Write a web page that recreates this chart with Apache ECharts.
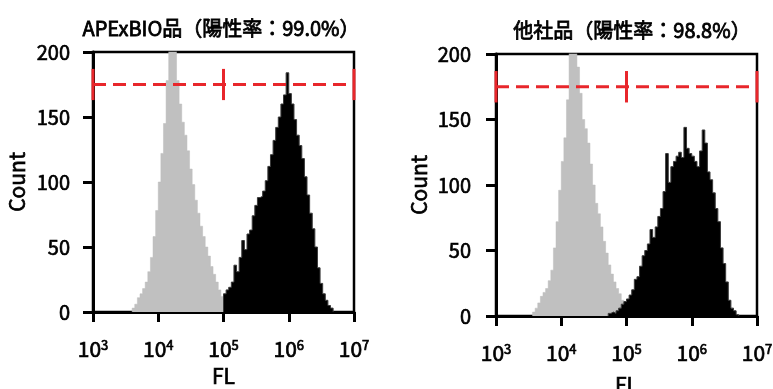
<!DOCTYPE html>
<html>
<head>
<meta charset="utf-8">
<script src="https://cdn.jsdelivr.net/npm/echarts@6/dist/echarts.min.js"></script>
<style>
  html, body { margin: 0; padding: 0; background: #fff; }
  #chart { width: 773px; height: 389px; }
</style>
</head>
<body>
<div id="chart"></div>
<script>
// 直方图数据：每个bin宽 0.04 个数量级 (log10)
const binWidth = 0.04;

const titles = ["APExBIO品（陽性率：99.0%）", "他社品（陽性率：98.8%）"];
const tickLabels = ["10³", "10⁴", "10⁵", "10⁶", "10⁷"];

// 左图 APExBIO
const leftGrayStart = 3.60;
const leftGray = [3, 6, 11, 14, 18, 23, 31, 42, 58, 78, 100, 122, 145, 178, 205, 210, 202, 178, 160, 146,
  136, 124, 110, 98, 86, 76, 66, 58, 50, 43, 35, 29, 23, 17, 12, 8, 4];
const leftBlackStart = 5.00;
const leftBlack = [14, 17, 19, 23, 36, 31, 42, 55, 48, 60, 63, 74, 82, 88, 89, 93, 101, 112, 121, 132,
  142, 150, 160, 167, 184, 168, 160, 148, 136, 128, 118, 104, 90, 76, 64, 50, 34, 22, 14, 9, 5, 3];

// 右图 他社品
const rightGrayStart = 3.56;
const rightGray = [3, 6, 10, 15, 18, 21, 27, 35, 52, 72, 96, 118, 136, 165, 205, 210, 205, 190, 170, 150,
  143, 132, 116, 100, 86, 78, 68, 57, 48, 39, 32, 26, 21, 17, 12, 8, 5, 3];
const rightBlackStart = 4.72;
const rightBlack = [2, 3, 2, 4, 6, 9, 11, 13, 16, 20, 28, 30, 38, 46, 50, 55, 66, 60, 68, 76,
  82, 95, 124, 102, 114, 118, 122, 125, 121, 144, 128, 124, 122, 118, 114, 126, 142, 132, 110, 104,
  94, 82, 72, 52, 40, 26, 12, 6, 4, 1];

// 门控线（红色虚线）
const gateLevel = 175;
const gateLow = 163;
const gateHigh = 187;
const gateEdges = [1e3, 1e5, 1e7];

const FONT = "'Noto Sans CJK JP', 'Noto Sans', sans-serif";
// 常规字重 + 细描边，接近原图的中等字重
const heavy = { fontWeight: "normal", textBorderColor: "#000", textBorderWidth: 0.7 };

function toSteps(start, counts) {
  const pts = [[Math.pow(10, start), 0]];
  counts.forEach(function (c, i) {
    pts.push([Math.pow(10, start + i * binWidth), c]);
  });
  pts.push([Math.pow(10, start + counts.length * binWidth), 0]);
  return pts;
}

const panels = [
  { grid: { left: 93, top: 52, width: 261, height: 260 }, title: { left: 216, top: 13 },
    gray: [leftGrayStart, leftGray], black: [leftBlackStart, leftBlack], labelMargin: 23, countGap: 65, flGap: 54 },
  { grid: { left: 496, top: 54, width: 261, height: 262 }, title: { left: 627, top: 15 },
    gray: [rightGrayStart, rightGray], black: [rightBlackStart, rightBlack], labelMargin: 25, countGap: 66, flGap: 59 },
];

const chart = echarts.init(document.getElementById("chart"), null, { renderer: "canvas" });

const option = {
  backgroundColor: "#fff",
  animation: false,
  textStyle: { fontFamily: FONT },
  title: [],
  grid: [],
  xAxis: [],
  yAxis: [],
  series: [],
};

panels.forEach(function (p, k) {
  option.title.push({
    text: titles[k],
    left: p.title.left,
    top: p.title.top,
    textAlign: "center",
    textStyle: { fontFamily: FONT, fontSize: 20, color: "#000", fontWeight: "normal", textBorderColor: "#000", textBorderWidth: 0.8 },
  });
  option.grid.push(Object.assign({
    show: true, borderColor: "#000", borderWidth: 2.5, containLabel: false, outerBoundsMode: "none",
  }, p.grid));
  option.xAxis.push({
    type: "log",
    logBase: 10,
    gridIndex: k,
    min: 1e3,
    max: 1e7,
    splitNumber: 4,
    name: "FL",
    nameLocation: "middle",
    nameGap: p.flGap,
    nameMoveOverlap: false,
    nameTextStyle: Object.assign({ fontFamily: FONT, fontSize: 21, color: "#000" }, heavy),
    axisLine: { show: true, lineStyle: { color: "#000", width: 3 } },
    axisTick: { show: true, length: 10, lineStyle: { color: "#000", width: 3 } },
    minorTick: { show: false },
    splitLine: { show: false },
    axisLabel: Object.assign({
      margin: 27,
      color: "#000",
      fontFamily: FONT,
      fontSize: 21,
      formatter: function (v) {
        const e = Math.round(Math.log10(v));
        return tickLabels[e - 3] ? "10{s|" + e + "}" : "";
      },
      rich: {
        s: Object.assign({ fontSize: 13, fontFamily: FONT, color: "#000", verticalAlign: "top", padding: [0, 0, 8, 0] }, heavy),
      },
    }, heavy),
  });
  option.yAxis.push({
    type: "value",
    gridIndex: k,
    min: 0,
    max: 200,
    interval: 50,
    name: "Count",
    nameLocation: "middle",
    nameGap: p.countGap,
    nameMoveOverlap: false,
    nameTextStyle: Object.assign({ fontFamily: FONT, fontSize: 21, color: "#000" }, heavy),
    axisLine: { show: true, lineStyle: { color: "#000", width: 3 } },
    axisTick: { show: true, length: 10, lineStyle: { color: "#000", width: 3 } },
    splitLine: { show: false },
    axisLabel: Object.assign({ margin: p.labelMargin, color: "#000", fontFamily: FONT, fontSize: 20 }, heavy),
  });

  // 阴性对照（灰色）
  option.series.push({
    type: "line",
    xAxisIndex: k,
    yAxisIndex: k,
    step: "end",
    symbol: "none",
    data: toSteps(p.gray[0], p.gray[1]),
    lineStyle: { color: "#bdbdbd", width: 0.5 },
    areaStyle: { color: "#c0c0c0", opacity: 1 },
    z: 2,
  });
  // 染色样本（黑色）
  option.series.push({
    type: "line",
    xAxisIndex: k,
    yAxisIndex: k,
    step: "end",
    symbol: "none",
    data: toSteps(p.black[0], p.black[1]),
    lineStyle: { color: "#3a3a3a", width: 1 },
    areaStyle: { color: "#000", opacity: 1 },
    z: 3,
  });
  // 门控线
  option.series.push({
    type: "line",
    xAxisIndex: k,
    yAxisIndex: k,
    symbol: "none",
    clip: false,
    data: [[gateEdges[0], gateLevel], [gateEdges[gateEdges.length - 1], gateLevel]],
    lineStyle: { color: "#e8262b", width: 3, type: [13, 7] },
    z: 5,
  });
  gateEdges.forEach(function (g) {
    option.series.push({
      type: "line",
      xAxisIndex: k,
      yAxisIndex: k,
      symbol: "none",
      clip: false,
      data: [[g, gateLow], [g, gateHigh]],
      lineStyle: { color: "#e8262b", width: 3 },
      z: 5,
    });
  });
});

chart.setOption(option);
window.addEventListener("resize", function () {
  chart.resize();
});
</script>
</body>
</html>
